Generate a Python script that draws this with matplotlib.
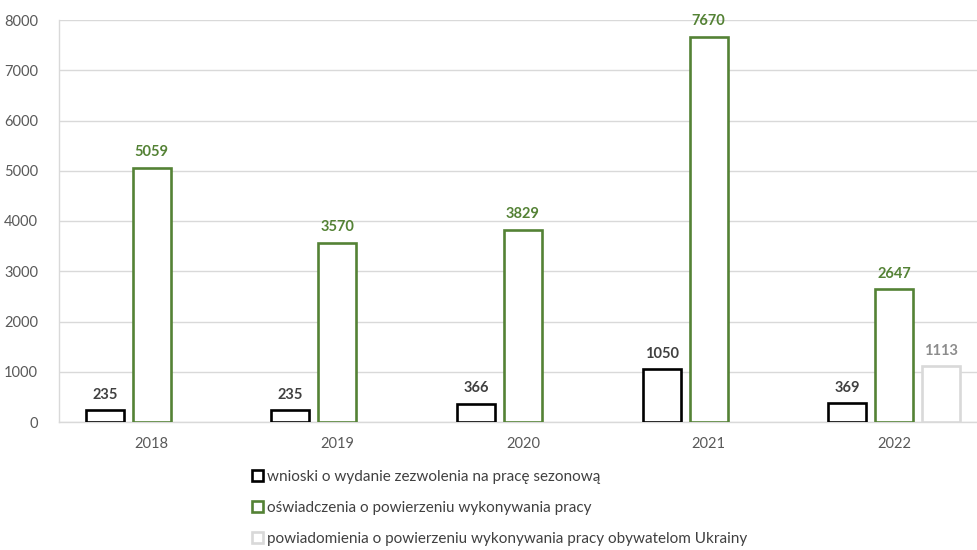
import matplotlib.pyplot as plt
import numpy as np
from matplotlib.patches import Patch

plt.rcParams["font.family"] = ["Lato", "DejaVu Sans"]

years = ["2018", "2019", "2020", "2021", "2022"]
wnioski = [235, 235, 366, 1050, 369]
oswiadczenia = [5059, 3570, 3829, 7670, 2647]
powiadomienia = [None, None, None, None, 1113]

series = [
    ("wnioski o wydanie zezwolenia na pracę sezonową", wnioski, "#000000", "#404040"),
    ("oświadczenia o powierzeniu wykonywania pracy", oswiadczenia, "#548235", "#548235"),
    ("powiadomienia o powierzeniu wykonywania pracy obywatelom Ukrainy", powiadomienia, "#d9d9d9", "#8c8c8c"),
]

fig = plt.figure(figsize=(9.78, 5.5), dpi=100)
ax = fig.add_axes([59 / 978, 128 / 550, 928 / 978, 402 / 550])

x = np.arange(len(years))
step = 0.253
width = 0.205
for i, (name, vals, edge, tcol) in enumerate(series):
    for xi, v in zip(x, vals):
        if v is None:
            continue
        pos = xi + (i - 1) * step
        ax.bar(pos, v, width, facecolor="white", edgecolor=edge, linewidth=1.9, zorder=3)
        ax.annotate(f"{v}", (pos, v), xytext=(0, 6), textcoords="offset points",
                    ha="center", va="bottom", fontsize=10.5, fontweight="bold", color=tcol)

ax.set_xlim(-0.5, len(years) - 0.5)
ax.set_ylim(0, 8000)
ax.set_yticks(np.arange(0, 8001, 1000))
ax.set_xticks(x)
ax.set_xticklabels(years)
ax.tick_params(length=0, labelsize=10.5, labelcolor="#595959", pad=11)
ax.tick_params(axis="y", pad=15)
ax.grid(axis="y", color="#d9d9d9", linewidth=1, zorder=0)
ax.set_axisbelow(True)
for s in ["top", "right"]:
    ax.spines[s].set_visible(False)
for s in ["left", "bottom"]:
    ax.spines[s].set_color("#d9d9d9")
    ax.spines[s].set_linewidth(1)

handles = [Patch(facecolor="white", edgecolor=e, linewidth=1.9, label=n) for n, _, e, _ in series]
fig.legend(handles=handles, loc="upper left", bbox_to_anchor=(252 / 978, 1 - 470 / 550),
           frameon=False, fontsize=11, labelcolor="#404040", handlelength=0.7,
           handleheight=0.7, handletextpad=0.3, labelspacing=1.1, borderpad=0,
           borderaxespad=0)

fig.savefig("out.png", dpi=100)
